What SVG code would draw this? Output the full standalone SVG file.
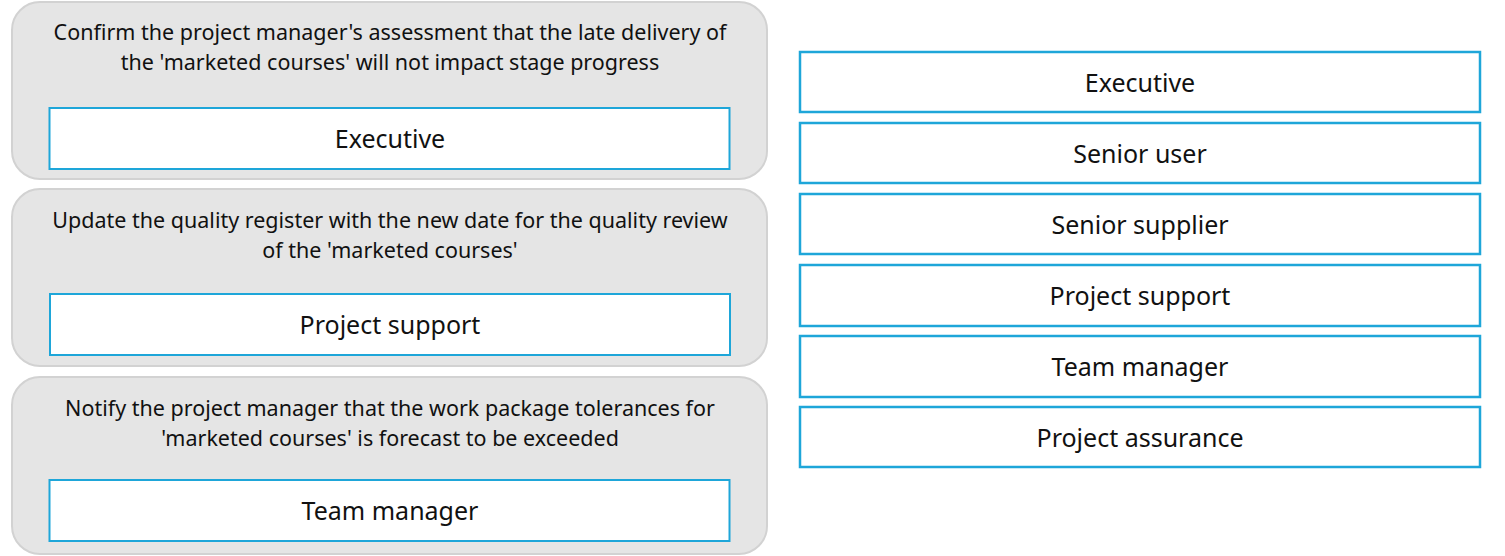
<svg xmlns="http://www.w3.org/2000/svg" width="1505" height="556" viewBox="0 0 1505 556">
<style>
.panel{fill:#e5e5e5;stroke:#d2d2d2;stroke-width:2}
.slot{fill:#ffffff;stroke:#1ea6d9;stroke-width:2}
.opt{fill:#ffffff;stroke:#1ea6d9;stroke-width:2.5}
.q{font-family:"Noto Sans","Open Sans",sans-serif;font-size:21.5px;fill:#111;text-anchor:middle}
.lbl{font-family:"Noto Sans","Open Sans",sans-serif;font-size:25px;fill:#111;text-anchor:middle}
</style>
<rect width="1505" height="556" fill="#ffffff"/>
<g id="panel1">
<rect class="panel" x="12" y="2" width="755" height="177" rx="28"/>
<text class="q" x="390" y="40">Confirm the project manager's assessment that the late delivery of</text>
<text class="q" x="390" y="70">the 'marketed courses' will not impact stage progress</text>
<rect class="slot" x="49.5" y="108" width="680" height="61"/>
<text class="lbl" x="390" y="148">Executive</text>
</g>
<g id="panel2">
<rect class="panel" x="12" y="189" width="755" height="177" rx="28"/>
<text class="q" x="390" y="228">Update the quality register with the new date for the quality review</text>
<text class="q" x="390" y="258">of the 'marketed courses'</text>
<rect class="slot" x="50" y="294" width="680" height="61"/>
<text class="lbl" x="390" y="334">Project support</text>
</g>
<g id="panel3">
<rect class="panel" x="12" y="377" width="755" height="177" rx="28"/>
<text class="q" x="390" y="416">Notify the project manager that the work package tolerances for</text>
<text class="q" x="390" y="446">'marketed courses' is forecast to be exceeded</text>
<rect class="slot" x="49.5" y="480" width="680" height="61"/>
<text class="lbl" x="390" y="520">Team manager</text>
</g>
<g id="opt1"><rect class="opt" x="800" y="52" width="680" height="60"/><text class="lbl" x="1140" y="92">Executive</text></g>
<g id="opt2"><rect class="opt" x="800" y="123" width="680" height="60"/><text class="lbl" x="1140" y="163">Senior user</text></g>
<g id="opt3"><rect class="opt" x="800" y="194" width="680" height="60"/><text class="lbl" x="1140" y="234">Senior supplier</text></g>
<g id="opt4"><rect class="opt" x="800" y="265" width="680" height="61"/><text class="lbl" x="1140" y="305">Project support</text></g>
<g id="opt5"><rect class="opt" x="800" y="336" width="680" height="61"/><text class="lbl" x="1140" y="376">Team manager</text></g>
<g id="opt6"><rect class="opt" x="800" y="407" width="680" height="60"/><text class="lbl" x="1140" y="447">Project assurance</text></g>
<g id="connectors"/>
</svg>
